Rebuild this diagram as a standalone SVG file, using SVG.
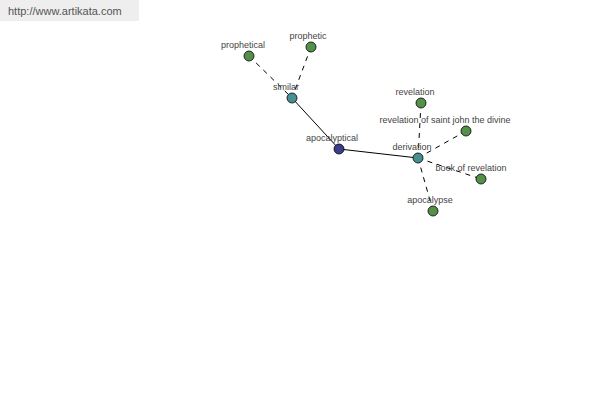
<svg xmlns="http://www.w3.org/2000/svg" width="600" height="400" viewBox="0 0 600 400">
<style>
text{font-family:"Liberation Sans",Arial,sans-serif;font-size:9px;fill:#444;text-anchor:middle}
.e{stroke:#000;stroke-width:1;fill:none}
.d{stroke-dasharray:5,5}
.n{stroke:#000;stroke-width:0.8}
.g{fill:#55904a}
.t{fill:#4a8f8f}
.b{fill:#3a3f8c}
</style>
<rect x="0" y="0" width="139" height="21" fill="#eeeeee"/>
<text x="8" y="15" style="text-anchor:start;font-size:11px;fill:#555">http://www.artikata.com</text>
<g id="connectors">
<line class="e d" x1="249" y1="56" x2="292" y2="98"/>
<line class="e d" x1="311" y1="47" x2="292" y2="98"/>
<line class="e" x1="292" y1="98" x2="339" y2="149"/>
<line class="e" x1="339" y1="149" x2="418" y2="158"/>
<line class="e d" x1="418" y1="158" x2="421" y2="103"/>
<line class="e d" x1="418" y1="158" x2="466" y2="131"/>
<line class="e d" x1="418" y1="158" x2="481" y2="179"/>
<line class="e d" x1="418" y1="158" x2="433" y2="211"/>
</g>
<g id="prophetical"><circle class="n g" cx="249" cy="56" r="5"/><text x="243" y="48">prophetical</text></g>
<g id="prophetic"><circle class="n g" cx="311" cy="47" r="5"/><text x="308" y="39">prophetic</text></g>
<g id="similar"><circle class="n t" cx="292" cy="98" r="5"/><text x="286" y="90">similar</text></g>
<g id="apocalyptical"><circle class="n b" cx="339" cy="149" r="5"/><text x="332" y="141">apocalyptical</text></g>
<g id="derivation"><circle class="n t" cx="418" cy="158" r="5"/><text x="412" y="150">derivation</text></g>
<g id="revelation"><circle class="n g" cx="421" cy="103" r="5"/><text x="415" y="95">revelation</text></g>
<g id="revelation-of-saint-john"><circle class="n g" cx="466" cy="131" r="5"/><text x="445" y="123">revelation of saint john the divine</text></g>
<g id="book-of-revelation"><circle class="n g" cx="481" cy="179" r="5"/><text x="471" y="171">book of revelation</text></g>
<g id="apocalypse"><circle class="n g" cx="433" cy="211" r="5"/><text x="430" y="203">apocalypse</text></g>
</svg>
